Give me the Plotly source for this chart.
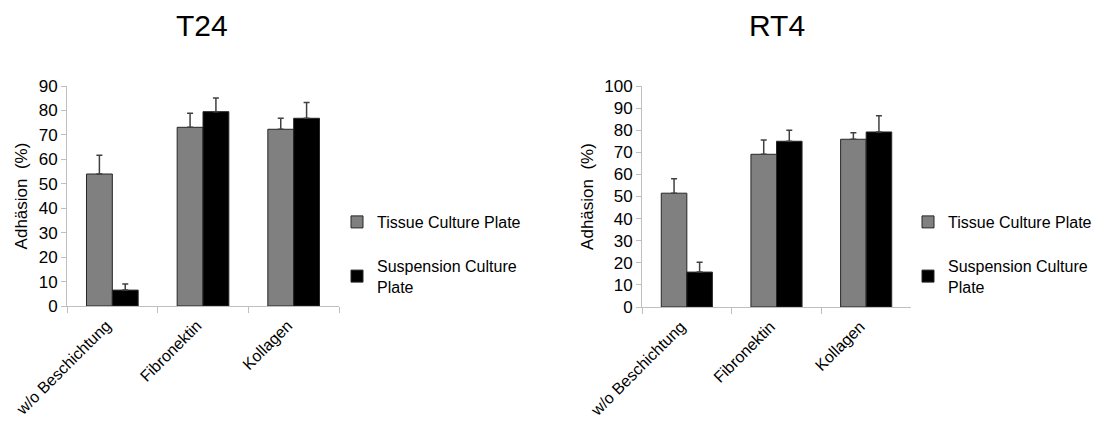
import plotly.graph_objects as go

categories = ["w/o Beschichtung", "Fibronektin", "Kollagen"]

t24_tissue = [54.0, 73.1, 72.3]
t24_tissue_err = [7.7, 5.8, 4.5]
t24_susp = [6.5, 79.5, 76.8]
t24_susp_err = [2.5, 5.6, 6.4]

rt4_tissue = [51.5, 69.1, 75.9]
rt4_tissue_err = [6.5, 6.5, 3.0]
rt4_susp = [15.8, 75.0, 79.2]
rt4_susp_err = [4.4, 5.0, 7.3]

series_names = ["Tissue Culture Plate", "Suspension Culture<br>Plate"]
FONT = "Liberation Sans, Arial, sans-serif"
GRAY = "#808080"
BLACK = "#000000"
AX = "#bfbfbf"

fig = go.Figure()

def add(xa, ya, vals, errs, name, color, legend, group):
    fig.add_trace(go.Bar(
        x=categories, y=vals, name=name, xaxis=xa, yaxis=ya,
        marker=dict(color=color, line=dict(color="#262626", width=1)),
        error_y=dict(type="data", array=errs, arrayminus=[0]*len(errs), symmetric=False,
                     color="#404040", thickness=1.5, width=3),
        legend=legend, legendgroup=group,
    ))

add("x", "y", t24_tissue, t24_tissue_err, series_names[0], GRAY, "legend", "a")
add("x", "y", t24_susp, t24_susp_err, series_names[1], BLACK, "legend", "b")
add("x2", "y2", rt4_tissue, rt4_tissue_err, series_names[0], GRAY, "legend2", "a")
add("x2", "y2", rt4_susp, rt4_susp_err, series_names[1], BLACK, "legend2", "b")

# page offset of the plot div (body margin)
OFF = 8
W, H = 1096, 418
def px(x):
    return (x - OFF) / W
def py(y):
    return 1 - (y - OFF) / H

xcommon = dict(type="category", showline=True, linecolor=AX, linewidth=1,
               ticks="outside", tickson="boundaries", ticklen=6, tickcolor=AX,
               tickangle=-45, tickfont=dict(family=FONT, size=16, color="#000"),
               ticklabelshift=-6, ticklabelstandoff=3,
               showgrid=False, automargin=False, zeroline=False)
ycommon = dict(showline=True, linecolor=AX, linewidth=1, ticks="outside", ticklen=5,
               tickcolor=AX, dtick=10, showgrid=False, zeroline=False, automargin=False,
               tickfont=dict(family=FONT, size=17, color="#000"),
               title=dict(text="Adhäsion  (%)", font=dict(family=FONT, size=17, color="#000"), standoff=6))

legcommon = dict(font=dict(family=FONT, size=16, color="#000"), bgcolor="rgba(0,0,0,0)",
                 xanchor="left", yanchor="top", tracegroupgap=20, itemwidth=30,
                 traceorder="grouped")

fig.update_layout(
    width=W, height=H, margin=dict(l=0, r=0, t=0, b=0),
    paper_bgcolor="white", plot_bgcolor="white",
    barmode="group", bargap=0.43, bargroupgap=0,
    xaxis=dict(domain=[px(67), px(339)], anchor="y", **xcommon),
    yaxis=dict(domain=[py(306), py(86)], anchor="x", range=[0, 90], **ycommon),
    xaxis2=dict(domain=[px(642), px(911)], anchor="y2", **xcommon),
    yaxis2=dict(domain=[py(307), py(86)], anchor="x2", range=[0, 100], **ycommon),
    legend=dict(x=px(337), y=py(205), **legcommon),
    legend2=dict(x=px(908), y=py(205), **legcommon),
    annotations=[
        dict(text="T24", x=px(202), y=py(25), xref="paper", yref="paper", showarrow=False,
             font=dict(family=FONT, size=30, color="#000"), xanchor="center", yanchor="middle"),
        dict(text="RT4", x=px(777), y=py(25), xref="paper", yref="paper", showarrow=False,
             font=dict(family=FONT, size=30, color="#000"), xanchor="center", yanchor="middle"),
    ],
)

fig.write_html("out.html")
